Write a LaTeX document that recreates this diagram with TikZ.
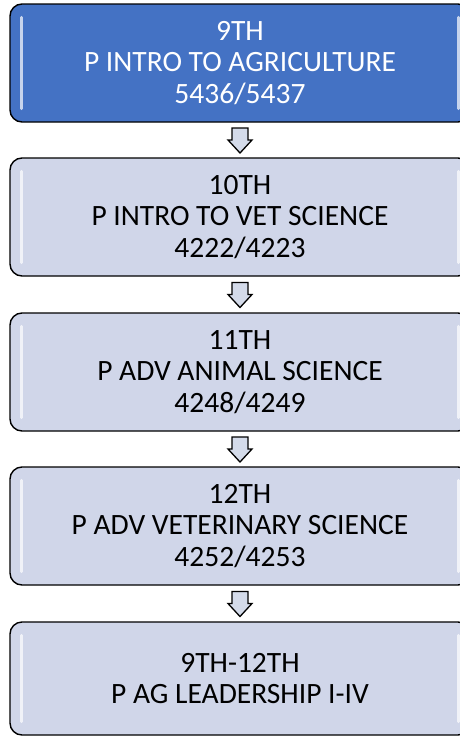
\documentclass[tikz,border=0pt]{standalone}
\usepackage{fontspec}
\setmainfont{Carlito}
\definecolor{topblue}{HTML}{4472C4}
\definecolor{lightbox}{HTML}{D0D6E9}
\definecolor{arrowfill}{HTML}{D4DBEA}
\begin{document}
\begin{tikzpicture}[x=1pt,y=1pt,
  stagebox/.style={draw=black, line width=1.4pt, rounded corners=12pt,
    minimum width=460pt, minimum height=118pt, inner sep=0pt,
    align=center, font=\fontsize{29.5}{31.5}\selectfont, fill=lightbox, text=black},
  firstbox/.style={stagebox, fill=topblue, text=white},
  gloss/.style={draw=white, line width=3pt, line cap=round, opacity=0.75},
  blockarrow/.style={draw=black, line width=1.3pt, fill=arrowfill, line join=miter}
]
\useasboundingbox (0,0) rectangle (460,-736);
\clip (0,0) rectangle (460,-736);

\node[firstbox] (b1) at (240,-63) {9TH\\P INTRO TO AGRICULTURE\\5436/5437};
\node[stagebox] (b2) at (240,-217) {10TH\\P INTRO TO VET SCIENCE\\4222/4223};
\node[stagebox] (b3) at (240,-372) {11TH\\P ADV ANIMAL SCIENCE\\4248/4249};
\node[stagebox] (b4) at (240,-526) {12TH\\P ADV VETERINARY SCIENCE\\4252/4253};
\node[stagebox, minimum height=113pt] (b5) at (240,-678.5) {9TH-12TH\\P AG LEADERSHIP I-IV};

\foreach \b in {b1,b2,b3,b4,b5}{
  \draw[gloss, opacity=0.7] ([xshift=12pt,yshift=-14pt]\b.north west) -- ([xshift=12pt,yshift=14pt]\b.south west);
  \draw[gloss, opacity=0.7] ([xshift=-12pt,yshift=-14pt]\b.north east) -- ([xshift=-12pt,yshift=14pt]\b.south east);
}

\foreach \a/\b in {b1/b2,b2/b3,b3/b4,b4/b5}{
  \path (\a.south) -- (\b.north) coordinate[pos=0.5] (m\a);
  \draw[blockarrow] ([shift={(-8,12)}]m\a) -- ([shift={(8,12)}]m\a) -- ([shift={(8,0)}]m\a)
    -- ([shift={(12,0)}]m\a) -- ([shift={(0,-13)}]m\a) -- ([shift={(-12,0)}]m\a)
    -- ([shift={(-8,0)}]m\a) -- cycle;
}
\end{tikzpicture}
\end{document}
